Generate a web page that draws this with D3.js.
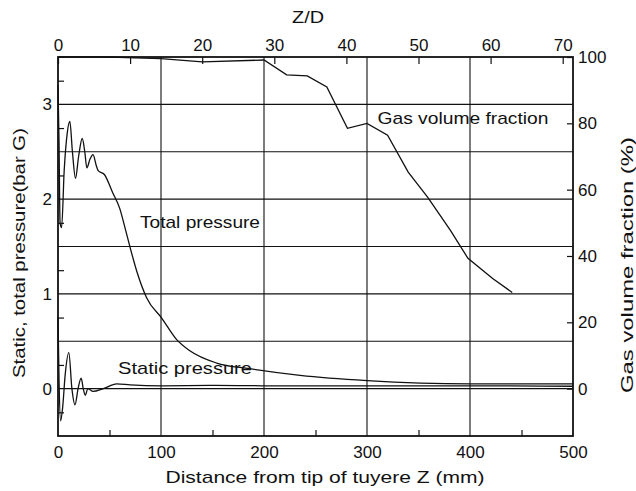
<!DOCTYPE html>
<html><head><meta charset="utf-8">
<script src="https://cdn.jsdelivr.net/npm/d3@7"></script>
<style>body{margin:0;background:#fff}svg text{font-family:"Liberation Sans",Arial,sans-serif;fill:#111}</style>
</head><body>
<svg id="c" width="636" height="491"></svg>
<script>
// ---- data ----
const distanceTicks = [0, 100, 200, 300, 400, 500];
const distanceMinor = [50, 150, 250, 350, 450];
const zdTicks = [0, 10, 20, 30, 40, 50, 60, 70];
const pressureTicks = [0, 1, 2, 3];
const pressureGrid = [0, 0.5, 1, 1.5, 2, 2.5, 3];
const pressureMinor = [-0.25, 0.25, 0.75, 1.25, 1.75, 2.25, 2.75, 3.25];
const gasTicks = [0, 20, 40, 60, 80, 100];

const totalZ = [0, 1, 2, 3.5, 6, 9, 11.5, 14, 17, 20, 23.5, 26, 28, 31, 34, 37, 39, 45, 53, 60, 65, 70, 77, 86, 101, 115, 128, 154, 186, 235, 300, 400, 500];
const totalP = [3.2, 2.6, 1.75, 1.7, 2.3, 2.7, 2.82, 2.5, 2.22, 2.45, 2.64, 2.5, 2.33, 2.42, 2.47, 2.36, 2.3, 2.26, 2.07, 1.9, 1.7, 1.49, 1.22, 0.96, 0.74, 0.52, 0.40, 0.27, 0.21, 0.14, 0.085, 0.05, 0.05];

const staticZ = [0, 1, 2.5, 4.5, 7, 10.5, 13.5, 16.5, 19.5, 22.5, 24.5, 26.5, 29, 34, 44, 57, 70, 100, 150, 200, 300, 400, 500];
const staticP = [0.75, 0.1, -0.34, -0.2, 0.15, 0.38, 0.0, -0.17, 0.0, 0.11, 0.0, -0.07, 0.0, -0.03, 0.0, 0.05, 0.04, 0.03, 0.035, 0.03, 0.03, 0.03, 0.025];

const gasZ = [0, 50, 100, 140, 200, 222, 242, 261, 281, 300, 320, 340, 359, 381, 398, 422, 441];
const gasF = [100, 100, 99.5, 98.5, 99.1, 94.6, 94.3, 91, 78.5, 80, 76.4, 65.3, 57.7, 47.7, 39.3, 33.2, 29];

// ---- scales ----
const L = 58, R = 573, T = 57, B = 436;
const x = d3.scaleLinear().domain([0, 500]).range([L, R]);
const xTop = d3.scaleLinear().domain([0, 500 / 7]).range([L, R]);
const y = d3.scaleLinear().domain([-0.5, 3.5]).range([B, T]);
const y2 = d3.scaleLinear().domain([0, 100]).range([y(0), T]);

const svg = d3.select("#c");
const ink = "#111";

// grid
const g = svg.append("g");
g.selectAll("line.h").data(pressureGrid).join("line")
  .attr("x1", L).attr("x2", R).attr("y1", d => y(d)).attr("y2", d => y(d))
  .attr("stroke", ink).attr("stroke-width", 1.1);
g.selectAll("line.v").data(distanceTicks.slice(1, -1)).join("line")
  .attr("x1", d => x(d)).attr("x2", d => x(d)).attr("y1", T).attr("y2", B)
  .attr("stroke", ink).attr("stroke-width", 1.1);

// axes (inward ticks)
const fs = 17;
function styleAxis(sel) {
  sel.select(".domain").remove();
  sel.selectAll("line").attr("stroke", ink).attr("stroke-width", 1.2);
  sel.selectAll("text").style("font-size", fs + "px").style("font-family", '"Liberation Sans",Arial,sans-serif').attr("fill", ink);
}
svg.append("g").attr("transform", `translate(0,${B})`)
  .call(d3.axisBottom(x).tickValues(distanceTicks).tickSize(0).tickPadding(10))
  .call(styleAxis);
svg.append("g").attr("transform", `translate(0,${B})`)
  .call(d3.axisTop(x).tickValues(distanceMinor).tickSize(6).tickFormat(""))
  .call(styleAxis);

svg.append("g").attr("transform", `translate(0,${T})`)
  .call(d3.axisBottom(xTop).tickValues(zdTicks).tickSize(7).tickFormat(""))
  .call(styleAxis);
svg.append("g").attr("transform", `translate(0,${T})`)
  .call(d3.axisTop(xTop).tickValues(zdTicks).tickSize(0).tickPadding(6))
  .call(styleAxis);

svg.append("g").attr("transform", `translate(${L},0)`)
  .call(d3.axisRight(y).tickValues(pressureMinor).tickSize(6).tickFormat(""))
  .call(styleAxis);
svg.append("g").attr("transform", `translate(${L},0)`)
  .call(d3.axisLeft(y).tickValues(pressureTicks).tickSize(0).tickPadding(6).tickFormat(d3.format("d")))
  .call(styleAxis);

svg.append("g").attr("transform", `translate(${R},0)`)
  .call(d3.axisLeft(y2).tickValues(gasTicks).tickSize(6).tickFormat(""))
  .call(styleAxis);
svg.append("g").attr("transform", `translate(${R},0)`)
  .call(d3.axisRight(y2).tickValues(gasTicks).tickSize(0).tickPadding(5))
  .call(styleAxis);

// frame
svg.append("rect").attr("x", L).attr("y", T).attr("width", R - L).attr("height", B - T)
  .attr("fill", "none").attr("stroke", ink).attr("stroke-width", 1.8);

// curves
const lineP = d3.line().x(d => x(d[0])).y(d => y(d[1])).curve(d3.curveMonotoneX);
svg.append("path").datum(d3.zip(totalZ, totalP)).attr("d", lineP)
  .attr("fill", "none").attr("stroke", ink).attr("stroke-width", 1.3);
svg.append("path").datum(d3.zip(staticZ, staticP)).attr("d", lineP)
  .attr("fill", "none").attr("stroke", ink).attr("stroke-width", 1.3);
const lineG = d3.line().x(d => x(d[0])).y(d => y2(d[1]));
svg.append("path").datum(d3.zip(gasZ, gasF)).attr("d", lineG)
  .attr("fill", "none").attr("stroke", ink).attr("stroke-width", 1.3);

// labels
function label(txt, px, py, len, rot) {
  const t = svg.append("text").text(txt).style("font-size", fs + "px")
    .attr("text-anchor", "middle");
  if (len) t.attr("textLength", len).attr("lengthAdjust", "spacingAndGlyphs");
  if (rot) t.attr("transform", `translate(${px},${py}) rotate(${rot})`);
  else t.attr("x", px).attr("y", py);
  return t;
}
label("Total pressure", 200, 228, 120);
label("Static pressure", 185, 374, 134);
label("Gas volume fraction", 463, 124, 171);
label("Distance from tip of tuyere Z (mm)", 325, 483, 319);
label("Z/D", 308, 23, 32);
label("Static, total pressure(bar G)", 25, 253, 250, -90);
label("Gas volume fraction (%)", 633, 265, 256, -90);
</script>
</body></html>
